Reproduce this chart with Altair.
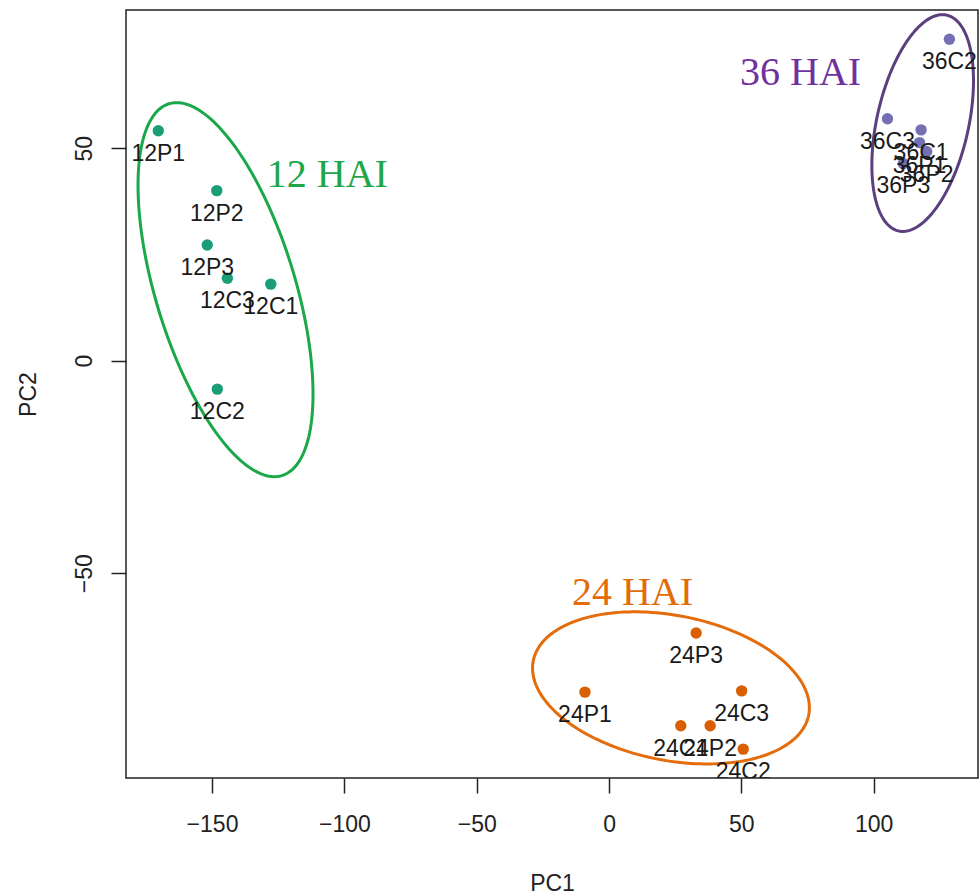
import altair as alt
import numpy as np
import pandas as pd

# ---- sample scores ----
samples = ["12P1", "12P2", "12P3", "12C1", "12C2", "12C3",
           "24P1", "24P2", "24P3", "24C1", "24C2", "24C3",
           "36P1", "36P2", "36P3", "36C1", "36C2", "36C3"]
pc1 = [-170.3, -148.2, -151.8, -127.8, -148.0, -144.2,
       -9.1, 38.2, 32.9, 27.1, 50.7, 50.1,
       117.3, 120.0, 111.2, 117.9, 128.6, 105.2]
pc2 = [54.1, 40.0, 27.2, 18.0, -6.7, 19.4,
       -78.0, -85.9, -64.1, -85.9, -91.4, -77.7,
       51.3, 49.2, 46.4, 54.3, 75.6, 56.9]
groups = ["12 HAI"] * 6 + ["24 HAI"] * 6 + ["36 HAI"] * 6

group_names = ["12 HAI", "24 HAI", "36 HAI"]
point_colors = ["#1B9E77", "#D95F02", "#7570B3"]
ellipse_colors = ["#1AA84A", "#E46C0A", "#5B3F7E"]
text_colors = ["#1FA64A", "#E36C09", "#7030A0"]

# ellipse parameters (data units): centre, half-width, half-height, correlation
ell_cx = [-144.9, 23.4, 118.5]
ell_cy = [16.7, -77.0, 55.9]
ell_hw = [33.06, 52.3, 19.2]
ell_hh = [44.0, 17.9, 25.5]
ell_r = [-0.558, -0.26, 0.39]

# group annotation positions (left, baseline)
ann_x = [-129.3, -14.0, 49.5]
ann_y = [40.9, -57.5, 64.9]

x_domain = [-182.5, 139.4]
y_domain = [-98.2, 82.5]
x_ticks = [-150, -100, -50, 0, 50, 100]
y_ticks = [-50, 0, 50]

# ---- tables ----
pcol = dict(zip(group_names, point_colors))
pts = pd.DataFrame({"sample": samples, "PC1": pc1, "PC2": pc2, "group": groups})
pts["color"] = pts["group"].map(pcol)

rows = []
t = np.linspace(0, 2 * np.pi, 181)
for g, c, cx, cy, hw, hh, r in zip(group_names, ellipse_colors, ell_cx, ell_cy, ell_hw, ell_hh, ell_r):
    xs = cx + hw * np.cos(t)
    ys = cy + hh * (r * np.cos(t) + np.sqrt(1 - r * r) * np.sin(t))
    for i, (xx, yy) in enumerate(zip(xs, ys)):
        rows.append({"group": g, "color": c, "i": i, "PC1": xx, "PC2": yy})
ell = pd.DataFrame(rows)

ann = pd.DataFrame({"label": group_names, "PC1": ann_x, "PC2": ann_y, "color": text_colors})

xs = alt.Scale(domain=x_domain, nice=False, zero=False)
ys = alt.Scale(domain=y_domain, nice=False, zero=False)

X = alt.X("PC1:Q", scale=xs, title="PC1",
          axis=alt.Axis(values=x_ticks, labelPadding=20, titleY=112,
                        titleBaseline="alphabetic", labelFlush=False))
Y = alt.Y("PC2:Q", scale=ys, title="PC2",
          axis=alt.Axis(values=y_ticks, labelAngle=270, labelAlign="center",
                        labelBaseline="alphabetic", labelPadding=20,
                        titleAngle=270, titleX=-91, titleY=384,
                        titleBaseline="alphabetic", titleAlign="center", labelFlush=False))

ellipses = alt.Chart(ell).mark_line(strokeWidth=3, clip=True).encode(
    x=X, y=Y, detail="group:N", order="i:Q",
    color=alt.Color("color:N", scale=None))

points = alt.Chart(pts).mark_circle(size=130, opacity=1, clip=True).encode(
    x=X, y=Y, color=alt.Color("color:N", scale=None))

labels = alt.Chart(pts).mark_text(
    font="Liberation Sans", fontSize=23, dy=30, baseline="alphabetic",
    align="center", color="#1a1a1a", clip=True).encode(
    x=X, y=Y, text="sample:N")

annots = alt.Chart(ann).mark_text(
    font="Liberation Serif", fontSize=40, align="left", baseline="alphabetic").encode(
    x=X, y=Y, text="label:N", color=alt.Color("color:N", scale=None))

chart = alt.layer(ellipses, points, labels, annots).properties(
    width=852, height=768,
    padding={"left": 126, "top": 10, "right": 1, "bottom": 117},
    autosize=alt.AutoSizeParams(type="none"),
    background="white",
).configure_view(
    stroke="#222", strokeWidth=1.5
).configure_axis(
    domain=False, grid=False, tickColor="#222", tickWidth=1.5, tickSize=15,
    labelFont="Liberation Sans", labelFontSize=23, labelColor="#222",
    titleFont="Liberation Sans", titleFontSize=23, titleColor="#222",
    titleFontWeight="normal"
)

chart.save("out.html", embed_options={"renderer": "svg", "actions": False})
